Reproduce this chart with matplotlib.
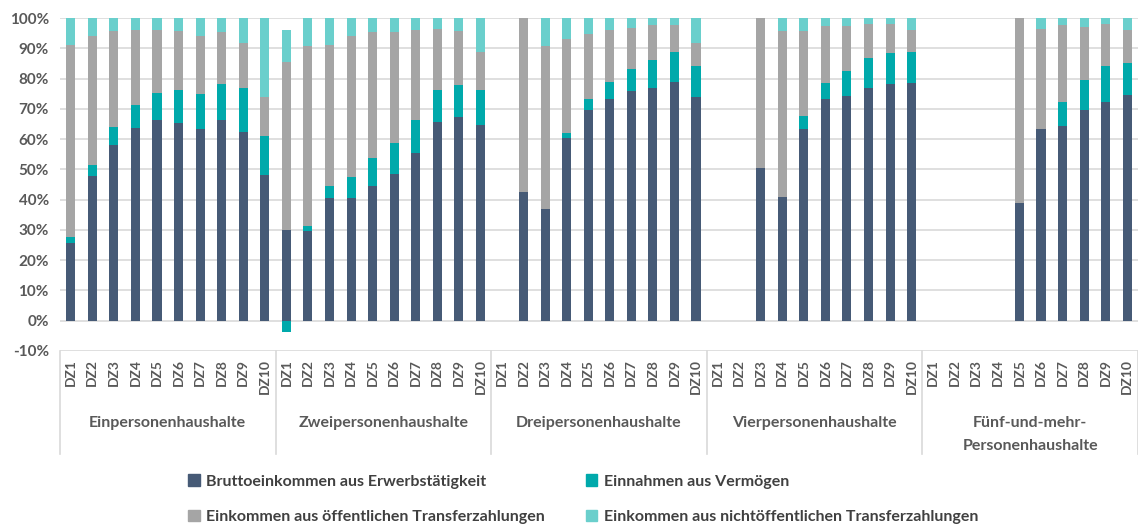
import numpy as np
import matplotlib
matplotlib.use("Agg")
import matplotlib.pyplot as plt
from matplotlib.lines import Line2D
from matplotlib.patches import Patch

groups = ["Einpersonenhaushalte", "Zweipersonenhaushalte", "Dreipersonenhaushalte",
          "Vierpersonenhaushalte", "Fünf-und-mehr-\nPersonenhaushalte"]
deciles = ["DZ%d" % i for i in range(1, 11)]

# Anteile in Prozent, je 10 Dezile pro Haushaltstyp
erwerb = [25.8, 47.9, 58.1, 63.6, 66.4, 65.3, 63.3, 66.4, 62.5, 48.2,
          30.1, 29.8, 40.7, 40.7, 44.5, 48.6, 55.4, 65.6, 67.3, 64.6,
          0, 42.4, 36.9, 60.4, 69.7, 73.3, 75.8, 76.8, 78.9, 73.8,
          0, 0, 50.5, 41.0, 63.2, 73.3, 74.1, 76.8, 78.2, 78.5,
          0, 0, 0, 0, 39.0, 63.2, 64.2, 69.7, 72.4, 74.4]
vermoegen = [1.7, 3.7, 5.9, 7.8, 8.8, 11.0, 11.5, 11.8, 14.4, 12.9,
             -3.8, 1.4, 3.8, 6.8, 9.2, 10.1, 10.9, 10.6, 10.5, 11.6,
             0, 0, 0, 1.5, 3.4, 5.6, 7.5, 9.2, 9.9, 10.2,
             0, 0, 0, 0, 4.4, 5.2, 8.5, 9.9, 10.2, 10.2,
             0, 0, 0, 0, 0, 0, 7.9, 9.9, 11.6, 10.7]
oeffentlich = [63.7, 42.4, 31.6, 24.6, 20.8, 19.3, 19.3, 17.1, 15.0, 12.7,
               55.3, 59.7, 46.7, 46.5, 41.6, 36.6, 29.6, 20.1, 17.8, 12.6,
               0, 57.6, 53.9, 31.3, 21.5, 17.0, 13.3, 11.6, 8.8, 7.8,
               0, 0, 49.5, 54.6, 28.0, 18.8, 14.7, 11.2, 9.5, 7.2,
               0, 0, 0, 0, 61.0, 33.1, 25.5, 17.3, 13.9, 10.8]
nichtoeffentlich = [8.8, 6.0, 4.4, 4.0, 4.0, 4.4, 5.9, 4.7, 8.1, 26.2,
                    10.8, 9.1, 8.8, 6.0, 4.7, 4.7, 4.1, 3.7, 4.4, 11.2,
                    0, 0, 9.2, 6.8, 5.4, 4.1, 3.4, 2.4, 2.4, 8.2,
                    0, 0, 0, 4.4, 4.4, 2.7, 2.7, 2.1, 2.1, 4.1,
                    0, 0, 0, 0, 0, 3.7, 2.4, 3.1, 2.1, 4.1]

series = [
    ("Bruttoeinkommen aus Erwerbstätigkeit", erwerb, "#465a76"),
    ("Einnahmen aus Vermögen", vermoegen, "#00a9ab"),
    ("Einkommen aus öffentlichen Transferzahlungen", oeffentlich, "#a5a5a5"),
    ("Einkommen aus nichtöffentlichen Transferzahlungen", nichtoeffentlich, "#6acfcc"),
]

plt.rcParams['font.family'] = ['Lato', 'DejaVu Sans']
txt = "#595959"
grid_c = "#d9d9d9"

fig = plt.figure(figsize=(11.38, 5.26), dpi=100)
W, H = 1138, 526
ax = fig.add_axes([60 / W, (H - 351) / H, 1078 / W, 333 / H])

n = len(erwerb)
x = np.arange(n)
pos_bottom = np.zeros(n)
neg_bottom = np.zeros(n)
for label, vals, col in series:
    v = np.array(vals, dtype=float)
    bottom = np.where(v >= 0, pos_bottom, neg_bottom)
    ax.bar(x, v, 0.42, bottom=bottom, color=col, linewidth=0, zorder=3, label=label)
    pos_bottom += np.where(v > 0, v, 0)
    neg_bottom += np.where(v < 0, v, 0)

ax.set_xlim(-0.5, n - 0.5)
ax.set_ylim(-10, 100)
ax.set_yticks(np.arange(-10, 101, 10))
ax.set_yticklabels(["%d%%" % t for t in range(-10, 101, 10)])
ax.yaxis.grid(True, color=grid_c, linewidth=1.2, zorder=0)
for s in ax.spines.values():
    s.set_visible(False)
ax.tick_params(axis='y', length=0, pad=8, labelsize=11, labelcolor=txt)
for t in ax.get_yticklabels():
    t.set_fontweight('bold')

ax.set_xticks(x)
ax.set_xticklabels(deciles * len(groups), rotation=90, fontsize=10, color=txt, fontweight='bold')
ax.tick_params(axis='x', length=0, pad=6)

# Gruppenbeschriftung und Trennlinien unter der Achse
trans = ax.get_xaxis_transform()
for k in range(len(groups) + 1):
    ax.add_line(Line2D([k * 10 - 0.5] * 2, [0, -103 / 333], transform=trans,
                       color=grid_c, linewidth=1.2, clip_on=False))
for k, g in enumerate(groups):
    lines = g.split("\n")
    for j, line in enumerate(lines):
        ax.text(k * 10 + 4.5, -(423 - 351 + 23 * j) / 333, line, transform=trans,
                ha='center', va='center', fontsize=11.5, color=txt, fontweight='bold')

handles = [Patch(color=c) for _, _, c in series]
labels = [l for l, _, _ in series]
order = [0, 2, 1, 3]
fig.legend([handles[i] for i in order], [labels[i] for i in order], ncol=2,
           loc='upper left', bbox_to_anchor=(174 / W, 1 - 460 / H), frameon=False,
           handlelength=0.7, handleheight=0.7, handletextpad=0.4, columnspacing=2.6,
           labelspacing=1.35, prop={'size': 11.5, 'weight': 'bold'}, labelcolor="#404040")

fig.savefig("out.png", dpi=100)
